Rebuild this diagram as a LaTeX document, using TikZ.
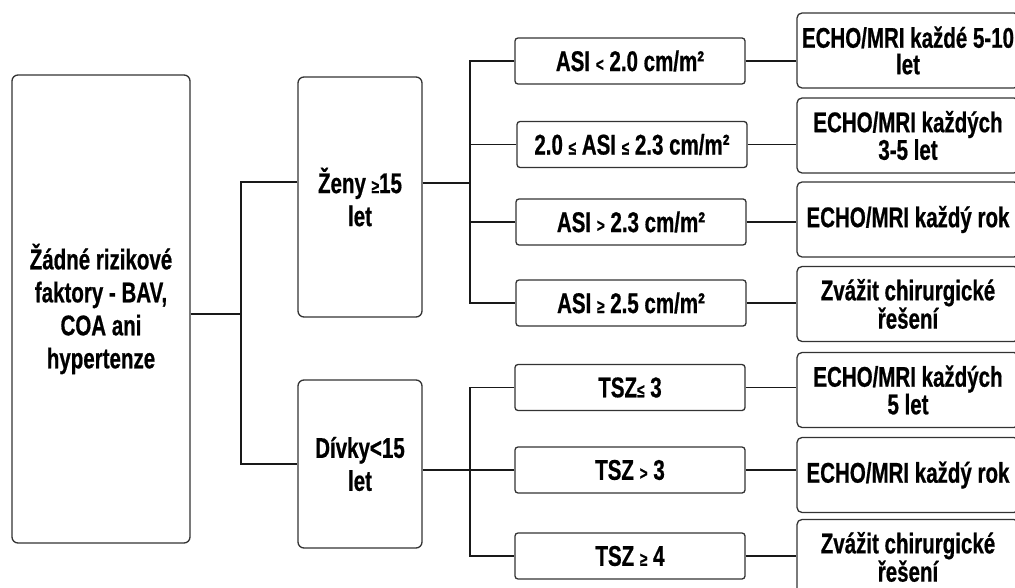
\documentclass[tikz,border=0pt]{standalone}
\usepackage{fontspec}
\setmainfont{Liberation Sans Bold}[FakeStretch=0.72,FakeBold=0.6]
\newcommand\rel[1]{{\fontsize{19}{19}\selectfont #1}}
\begin{document}
\begin{tikzpicture}[x=1pt,y=-1pt,
  box/.style={draw=black!80,line width=1.3pt,rounded corners=6pt,align=center,inner sep=0pt,
     font=\fontsize{28.5}{33}\selectfont},
  midbox/.style={draw=black!80,line width=1.3pt,rounded corners=3pt,align=center,inner sep=0pt,
     minimum width=230pt,minimum height=46pt,font=\fontsize{28.5}{30}\selectfont},
  resbox/.style={draw=black!80,line width=1.3pt,rounded corners=5pt,align=center,inner sep=0pt,
     minimum width=222pt,minimum height=75pt,font=\fontsize{28.5}{26.5}\selectfont},
  conn/.style={draw=black!90,line width=1.7pt}]
\useasboundingbox (0,0) rectangle (1015,588);
\clip (0,0) rectangle (1015,588);
\fill[white] (0,0) rectangle (1015,588);

\node[box,minimum width=178pt,minimum height=468pt] (main) at (101,309)
  {Žádné rizikové\\faktory - BAV,\\COA ani\\hypertenze};
\node[box,minimum width=124pt,minimum height=240pt] (zeny) at (360,197) {Ženy \rel{≥}15\\let};
\node[box,minimum width=124pt,minimum height=168pt] (divky) at (360,464) {Dívky<15\\let};

\node[midbox] (m1) at (630,61) {ASI \rel{<} 2.0 cm/m²};
\node[midbox] (m2) at (632,144.5) {2.0 \rel{≤} ASI \rel{≤} 2.3 cm/m²};
\node[midbox] (m3) at (631,222) {ASI \rel{>} 2.3 cm/m²};
\node[midbox] (m4) at (631,303) {ASI \rel{≥} 2.5 cm/m²};
\node[midbox] (m5) at (630,387.5) {TSZ\rel{≤} 3};
\node[midbox] (m6) at (630,470) {TSZ \rel{>} 3};
\node[midbox] (m7) at (630,556) {TSZ \rel{≥} 4};

\node[resbox] (r1) at (908,50.5) {ECHO/MRI každé 5-10\\let};
\node[resbox] (r2) at (908,135.5) {ECHO/MRI každých\\3-5 let};
\node[resbox] (r3) at (908,219.5) {ECHO/MRI každý rok};
\node[resbox] (r4) at (908,304) {Zvážit chirurgické\\řešení};
\node[resbox] (r5) at (908,390) {ECHO/MRI každých\\5 let};
\node[resbox] (r6) at (908,475) {ECHO/MRI každý rok};
\node[resbox] (r7) at (908,557) {Zvážit chirurgické\\řešení};

\coordinate (bm) at (241,0);
\coordinate (bz) at (470,0);

% main to groups
\draw[conn] ([yshift=-5pt]main.east) -- ([yshift=-5pt]main.east -| bm);
\draw[conn] ([yshift=15pt]zeny.west) -| (bm |- divky.west) -- (divky.west);

% zeny bus
\draw[conn] ([yshift=14pt]zeny.east) -- ([yshift=14pt]zeny.east -| bz);
\draw[conn] (m1.west) -| (bz |- m4.west) -- (m4.west);
\draw[conn] (m2.west) -- (m2.west -| bz);
\draw[conn] (m3.west) -- (m3.west -| bz);

% divky bus
\draw[conn] ([yshift=-6pt]divky.east) -- ([yshift=-6pt]divky.east -| bz);
\draw[conn] (m5.west) -| (bz |- m7.west) -- (m7.west);
\draw[conn] (m6.west) -- (m6.west -| bz);

% mid to results
\foreach \i in {1,...,7}{
  \draw[conn] (m\i.east) -- (m\i.east -| r\i.west);
}
\end{tikzpicture}
\end{document}
